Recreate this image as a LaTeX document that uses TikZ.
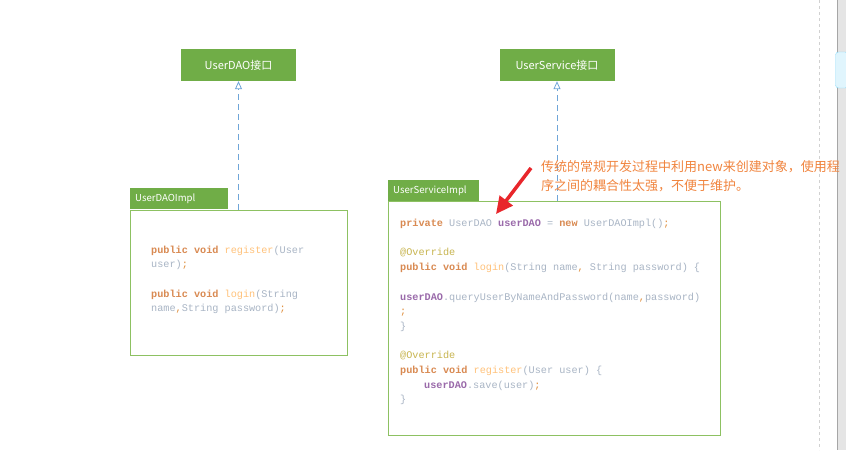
\documentclass[tikz,border=0pt]{standalone}
\usepackage{fontspec}
\usepackage{xcolor}
\usepackage{tikz}
\usetikzlibrary{positioning, arrows.meta}
\setmainfont{Noto Sans CJK SC}
\newfontfamily\codefont{Liberation Mono}
\definecolor{umlgreen}{HTML}{70AD47}
\definecolor{umledge}{HTML}{8DC162}
\definecolor{umlblue}{HTML}{6FA5D8}
\definecolor{notered}{HTML}{F0843E}
\definecolor{arrowred}{HTML}{E8262B}
\definecolor{codekw}{HTML}{D98A52}
\definecolor{codefn}{HTML}{FFC27A}
\definecolor{codety}{HTML}{A9B5C5}
\definecolor{codevar}{HTML}{9A6AAA}
\definecolor{codeann}{HTML}{C8B550}
\definecolor{codepun}{HTML}{E0903F}
\newcommand{\ckw}[1]{\textcolor{codekw}{\textbf{#1}}}
\newcommand{\cfn}[1]{\textcolor{codefn}{#1}}
\newcommand{\cty}[1]{\textcolor{codety}{#1}}
\newcommand{\cvar}[1]{\textcolor{codevar}{\textbf{#1}}}
\newcommand{\cann}[1]{\textcolor{codeann}{#1}}
\newcommand{\cpun}[1]{\textcolor{codepun}{#1}}

\begin{document}
\begin{tikzpicture}[x=1pt, y=-1pt,
        iface/.style={fill=umlgreen, text=white, minimum width=115pt, minimum height=32pt, inner sep=0pt, font=\fontsize{11}{12}\selectfont},
        implbox/.style={draw=umledge, line width=1pt, fill=white, anchor=north west, inner sep=0pt},
        tab/.style={fill=umlgreen, text=white, anchor=south west, minimum height=21pt, inner xsep=5pt, inner ysep=0pt, align=left, font=\fontsize{9.6}{10}\selectfont},
        realize/.style={umlblue, line width=0.8pt, dash pattern=on 6pt off 4pt, -{Triangle[open, length=8pt, width=7pt]}},
        code/.style={anchor=north west, inner sep=0pt, align=left, text=codety, font=\codefont\fontsize{10.2}{14.7}\selectfont},
        note/.style={anchor=north west, inner sep=0pt, align=left, text=notered, font=\fontsize{13}{19.5}\selectfont}]
  \useasboundingbox (0,0) rectangle (846,450);
  % page edge and scroll bar
  \draw[black!18, dashed] (819,0) -- (819,450);
  \fill[black!10] (837,0) rectangle (846,450);
  \draw[black!35, line width=1pt] (837,0) -- (837,450);
  \draw[rounded corners=3pt, draw=cyan!45, fill=cyan!12] (835.5,52) rectangle (848,88);

  % UserDAO
  \node[iface] (daoif) at (238.5,65) {UserDAO接口};
  \node[implbox, minimum width=217pt, minimum height=145pt] (daoimpl) at (130,209.5) {};
  \node[tab, text width=88pt] (daotab) at (daoimpl.north west) {UserDAOImpl};
  \draw[realize] (daoif.south |- daoimpl.north) -- (daoif.south);
  \node[code] (daocode) at (151,245.5) {%
    \ckw{public void} \cfn{register}(User\\
    user)\cpun{;}\\
    \mbox{}\\
    \ckw{public void} \cfn{login}(String\\
    name\cpun{,}String password)\cpun{;}};

  % UserService
  \node[iface] (svcif) at (557,65) {UserService接口};
  \node[implbox, minimum width=332pt, minimum height=234pt] (svcimpl) at (388,201) {};
  \node[tab, text width=81pt] (svctab) at (svcimpl.north west) {UserServiceImpl};
  \draw[realize] (svcif.south |- svcimpl.north) -- (svcif.south);
  \node[code] (svccode) at (400,219) {%
    \ckw{private} UserDAO \cvar{userDAO} = \ckw{new} UserDAOImpl()\cpun{;}\\
    \mbox{}\\
    \cann{@Override}\\
    \ckw{public void} \cfn{login}(String name\cpun{,} String password) \{\\
    \mbox{}\\
    \cvar{userDAO}.queryUserByNameAndPassword(name\cpun{,}password)\\
    \cpun{;}\\
    \}\\
    \mbox{}\\
    \cann{@Override}\\
    \ckw{public void} \cfn{register}(User user) \{\\
    \hspace*{24pt}\cvar{userDAO}.save(user)\cpun{;}\\
    \}};

  % remark
  \node[note] (remark) at (541,160) {传统的常规开发过程中利用new来创建对象，使用程\\序之间的耦合性太强，不便于维护。};
  \coordinate (pointtail) at (531,168);
  \coordinate (pointtip) at (496,214);
  \draw[arrowred, line width=3.5pt, -{Triangle[length=17pt, width=16pt]}] (pointtail) -- (pointtip);
\end{tikzpicture}
\end{document}
